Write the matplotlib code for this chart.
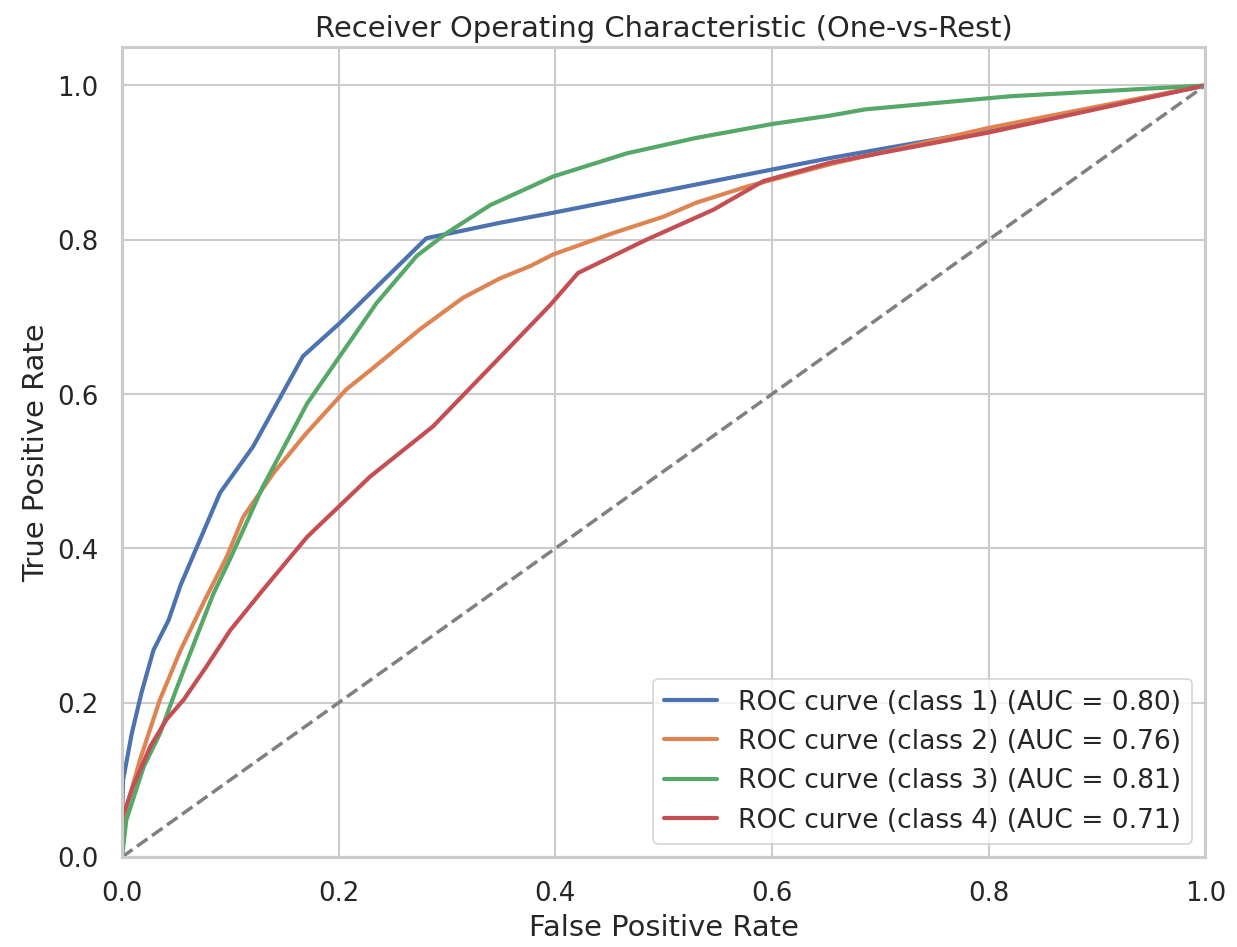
import matplotlib
matplotlib.use("Agg")
import matplotlib.pyplot as plt
import seaborn as sns

sns.set_theme(style="whitegrid", font_scale=1.2)
plt.rcParams.update({
    "axes.titlesize": 16.7,
    "axes.labelsize": 16.7,
    "xtick.labelsize": 15,
    "ytick.labelsize": 15,
    "xtick.major.pad": 7.5,
    "ytick.major.pad": 7.5,
    "legend.fontsize": 15.3,
    "axes.linewidth": 1.8,
    "grid.linewidth": 1.2,
})

fpr_1 = [0.0, 0.0, 0.001, 0.009, 0.018, 0.029, 0.043, 0.054, 0.064, 0.0905, 0.121, 0.167, 0.201, 0.281, 0.349, 0.398, 0.6, 0.654, 0.8, 1.0]
tpr_1 = [0.0, 0.05, 0.10, 0.16, 0.213, 0.268, 0.307, 0.352, 0.385, 0.472, 0.532, 0.649, 0.692, 0.802, 0.822, 0.835, 0.891, 0.906, 0.942, 1.0]

fpr_2 = [0.0, 0.0, 0.001, 0.0166, 0.035, 0.054, 0.075, 0.097, 0.112, 0.14, 0.17, 0.207, 0.232, 0.275, 0.315, 0.349, 0.377, 0.398, 0.454, 0.5, 0.53, 0.577, 0.654, 0.8, 1.0]
tpr_2 = [0.0, 0.02, 0.048, 0.126, 0.204, 0.268, 0.329, 0.39, 0.441, 0.498, 0.549, 0.606, 0.634, 0.684, 0.725, 0.75, 0.766, 0.781, 0.809, 0.83, 0.848, 0.869, 0.898, 0.945, 1.0]

fpr_3 = [0.0, 0.004, 0.02, 0.035, 0.05, 0.069, 0.084, 0.101, 0.13, 0.171, 0.201, 0.235, 0.272, 0.3, 0.34, 0.398, 0.466, 0.53, 0.6, 0.654, 0.686, 0.82, 1.0]
tpr_3 = [0.0, 0.048, 0.117, 0.16, 0.217, 0.286, 0.34, 0.39, 0.48, 0.588, 0.649, 0.718, 0.779, 0.809, 0.845, 0.882, 0.912, 0.932, 0.95, 0.961, 0.969, 0.986, 1.0]

fpr_4 = [0.0, 0.0, 0.01, 0.026, 0.041, 0.057, 0.078, 0.1, 0.13, 0.171, 0.229, 0.287, 0.349, 0.395, 0.421, 0.484, 0.546, 0.592, 0.654, 0.8, 1.0]
tpr_4 = [0.0, 0.05, 0.091, 0.143, 0.178, 0.204, 0.247, 0.294, 0.346, 0.415, 0.493, 0.558, 0.648, 0.715, 0.757, 0.8, 0.839, 0.876, 0.9, 0.939, 1.0]

class_names = ["class 1", "class 2", "class 3", "class 4"]
auc_values = [0.80, 0.76, 0.81, 0.71]
fprs = [fpr_1, fpr_2, fpr_3, fpr_4]
tprs = [tpr_1, tpr_2, tpr_3, tpr_4]
colors = sns.color_palette("deep")[:4]

fig, ax = plt.subplots(figsize=(9.9, 7.58), dpi=125)
fig.subplots_adjust(left=0.0986, right=0.974, top=0.950, bottom=0.095)

for fpr, tpr, name, auc, c in zip(fprs, tprs, class_names, auc_values, colors):
    ax.plot(fpr, tpr, color=c, lw=2.4, label=f"ROC curve ({name}) (AUC = {auc:.2f})")

ax.plot([0, 1], [0, 1], color="gray", lw=2, linestyle="--")
ax.set_xlim(0.0, 1.0)
ax.set_ylim(0.0, 1.05)
ax.set_xlabel("False Positive Rate")
ax.set_ylabel("True Positive Rate")
ax.set_title("Receiver Operating Characteristic (One-vs-Rest)")
ax.legend(loc="lower right")

fig.savefig("out.png", dpi=125)
